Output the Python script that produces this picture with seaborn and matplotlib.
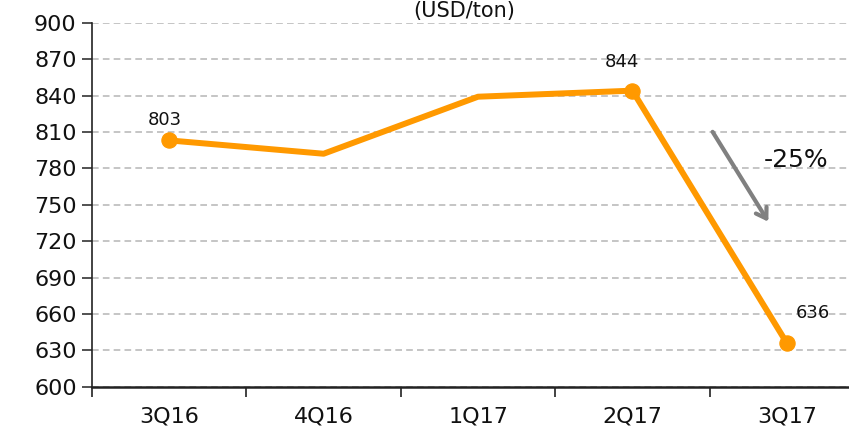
import numpy as np
import pandas as pd
import matplotlib
matplotlib.use('Agg')
import matplotlib.pyplot as plt
import seaborn as sns

# chart data
quarters = ['3Q16', '4Q16', '1Q17', '2Q17', '3Q17']
prices = [803, 792, 839, 844, 636]
labelled = ['3Q16', '2Q17', '3Q17']
y_ticks = list(range(600, 901, 30))

df = pd.DataFrame({'quarter': quarters, 'price': prices})
marked = df[df['quarter'].isin(labelled)]

sns.set_style('white')
plt.rcParams['font.family'] = ['Verdana', 'DejaVu Sans']

orange = '#FF9900'

fig = plt.figure(figsize=(8.49, 4.37), dpi=100)
ax = fig.add_axes([92 / 849, 1 - 386.7 / 437, (864 - 92) / 849, (386.7 - 22.7) / 437])

sns.lineplot(data=df, x='quarter', y='price', color=orange, linewidth=4.3, ax=ax, sort=False)
sns.scatterplot(data=marked, x='quarter', y='price', color=orange, s=120, edgecolor=orange, ax=ax, zorder=5)

# value labels
offsets = {'3Q16': (-0.03, 17), '2Q17': (-0.07, 24), '3Q17': (0.17, 25)}
for q, v in zip(marked['quarter'], marked['price']):
    i = quarters.index(q)
    dx, dy = offsets[q]
    ax.text(i + dx, v + dy, str(v), ha='center', va='center', fontsize=13, color='#111111')

ax.set_ylim(600, 900)
ax.set_yticks(y_ticks)
ax.set_xlim(-0.5, 4.5)
ax.set_xticks(range(len(quarters)))
ax.set_xticklabels(quarters)
ax.set_xticks(np.arange(-0.5, 4.5, 1), minor=True)
ax.tick_params(axis='x', which='both', bottom=True)
ax.tick_params(axis='x', which='major', length=0, labelsize=16, pad=14, colors='#111111')
ax.tick_params(axis='x', which='minor', length=7, width=1.2, color='#222222', direction='out')
ax.tick_params(axis='y', left=True, length=7, width=1.2, color='#333333', direction='out', labelsize=16, pad=4, labelcolor='#111111')
ax.set_xlabel('')
ax.set_ylabel('')

ax.yaxis.grid(True, linestyle=(0, (4, 2.5)), color='#BBBBBB', linewidth=1.2)
ax.set_axisbelow(True)
for s in ['top', 'right']:
    ax.spines[s].set_visible(False)
ax.spines['left'].set_color('#222222')
ax.spines['left'].set_linewidth(1.2)
ax.spines['bottom'].set_color('#222222')
ax.spines['bottom'].set_linewidth(1.8)

# change annotation
ax.annotate('', xy=(3.89, 734), xytext=(3.51, 812),
            arrowprops=dict(arrowstyle='->,head_length=0.7,head_width=0.45', color='#808080', lw=3))
ax.text(4.06, 787, '-25%', ha='center', va='center', fontsize=18, color='#111111')

fig.text(464 / 849, 1 - 17 / 437, '(USD/ton)', ha='center', va='baseline', fontsize=15, color='#111111')

fig.savefig('out.png', dpi=100)
